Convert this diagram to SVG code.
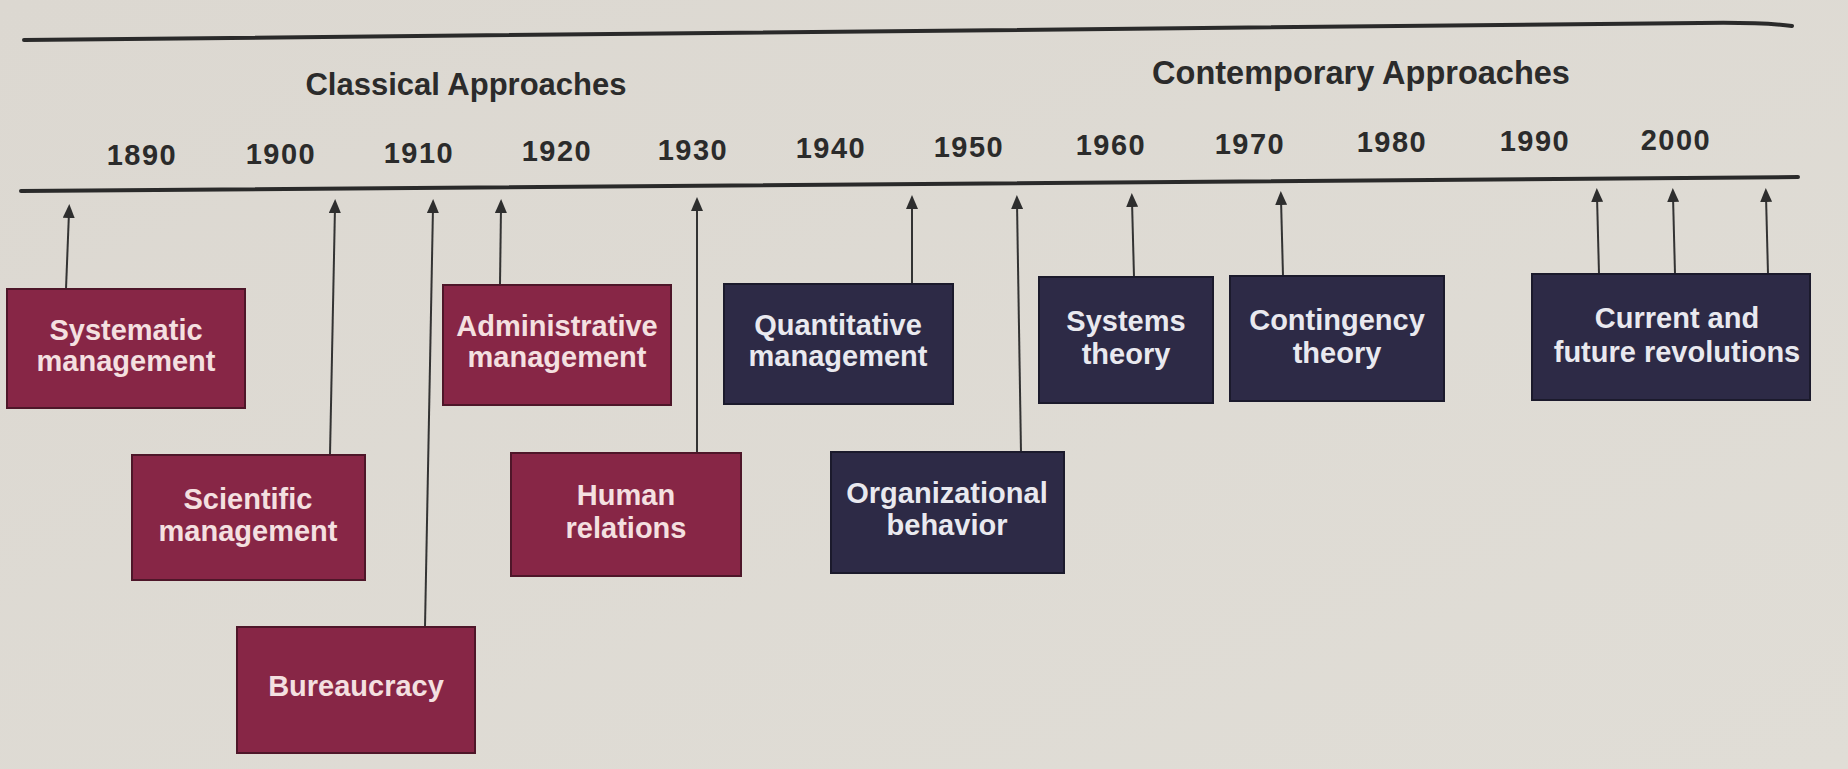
<svg xmlns="http://www.w3.org/2000/svg" width="1848" height="769" viewBox="0 0 1848 769">
  <defs>
    <linearGradient id="bg" x1="0" y1="0" x2="1" y2="1">
      <stop offset="0" stop-color="#dcd8d1"/>
      <stop offset="1" stop-color="#e0ddd6"/>
    </linearGradient>
    <marker id="ah" markerUnits="userSpaceOnUse" markerWidth="14" markerHeight="12" refX="6" refY="6" orient="auto">
      <path d="M0,0 L14,6 L0,12 z" fill="#2e2e2e"/>
    </marker>
    <style>
      .rule { fill: none; stroke: #2a2a2a; stroke-width: 4; stroke-linecap: round; }
      .conn { fill: none; stroke: #333333; stroke-width: 2; marker-end: url(#ah); }
      .head { font-family: "Liberation Sans", Arial, sans-serif; font-weight: bold; fill: #2b2b2b; text-anchor: middle; }
      .year { font-family: "Liberation Sans", Arial, sans-serif; font-weight: bold; font-size: 29px; fill: #2b2b2b; text-anchor: middle; letter-spacing: 1.5px; }
      .classical rect { fill: #872646; stroke: #4e1629; stroke-width: 2; }
      .contemporary rect { fill: #2d2a46; stroke: #1b1a2c; stroke-width: 2; }
      .classical text { fill: #f4e0e0; }
      .contemporary text { fill: #e9e9ef; }
      .node text { font-family: "Liberation Sans", Arial, sans-serif; font-weight: bold; font-size: 29px; text-anchor: middle; }
    </style>
  </defs>

  <rect x="0" y="0" width="1848" height="769" fill="url(#bg)"/>

  <g id="timeline">
    <path class="rule" d="M24,40 L1700,23 Q1762,22 1792,26"/>
    <path class="rule" d="M21,191 L1798,177"/>
    <text class="head" x="466" y="95" font-size="31">Classical Approaches</text>
    <text class="head" x="1361" y="84" font-size="32.5">Contemporary Approaches</text>
    <text class="year" x="142" y="165">1890</text>
    <text class="year" x="281" y="164">1900</text>
    <text class="year" x="419" y="163">1910</text>
    <text class="year" x="557" y="161">1920</text>
    <text class="year" x="693" y="160">1930</text>
    <text class="year" x="831" y="158">1940</text>
    <text class="year" x="969" y="157">1950</text>
    <text class="year" x="1111" y="155">1960</text>
    <text class="year" x="1250" y="154">1970</text>
    <text class="year" x="1392" y="152">1980</text>
    <text class="year" x="1535" y="151">1990</text>
    <text class="year" x="1676" y="150">2000</text>
  </g>

  <g id="connectors">
    <line class="conn" x1="66" y1="289" x2="69" y2="212"/>
    <line class="conn" x1="330" y1="455" x2="335" y2="207"/>
    <line class="conn" x1="425" y1="627" x2="433" y2="207"/>
    <line class="conn" x1="500" y1="285" x2="501" y2="207"/>
    <line class="conn" x1="697" y1="453" x2="697" y2="205"/>
    <line class="conn" x1="912" y1="284" x2="912" y2="203"/>
    <line class="conn" x1="1021" y1="452" x2="1017" y2="203"/>
    <line class="conn" x1="1134" y1="277" x2="1132" y2="201"/>
    <line class="conn" x1="1283" y1="276" x2="1281" y2="199"/>
    <line class="conn" x1="1599" y1="274" x2="1597" y2="196"/>
    <line class="conn" x1="1675" y1="274" x2="1673" y2="196"/>
    <line class="conn" x1="1768" y1="274" x2="1766" y2="196"/>
  </g>

  <g id="systematic" class="node classical">
    <rect x="7" y="289" width="238" height="119"/>
    <text x="126" y="340">Systematic</text>
    <text x="126" y="371">management</text>
  </g>
  <g id="scientific" class="node classical">
    <rect x="132" y="455" width="233" height="125"/>
    <text x="248" y="509">Scientific</text>
    <text x="248" y="541">management</text>
  </g>
  <g id="bureaucracy" class="node classical">
    <rect x="237" y="627" width="238" height="126"/>
    <text x="356" y="696">Bureaucracy</text>
  </g>
  <g id="administrative" class="node classical">
    <rect x="443" y="285" width="228" height="120"/>
    <text x="557" y="336">Administrative</text>
    <text x="557" y="367">management</text>
  </g>
  <g id="human" class="node classical">
    <rect x="511" y="453" width="230" height="123"/>
    <text x="626" y="505">Human</text>
    <text x="626" y="538">relations</text>
  </g>
  <g id="quantitative" class="node contemporary">
    <rect x="724" y="284" width="229" height="120"/>
    <text x="838" y="335">Quantitative</text>
    <text x="838" y="366">management</text>
  </g>
  <g id="organizational" class="node contemporary">
    <rect x="831" y="452" width="233" height="121"/>
    <text x="947" y="503">Organizational</text>
    <text x="947" y="535">behavior</text>
  </g>
  <g id="systems" class="node contemporary">
    <rect x="1039" y="277" width="174" height="126"/>
    <text x="1126" y="331">Systems</text>
    <text x="1126" y="364">theory</text>
  </g>
  <g id="contingency" class="node contemporary">
    <rect x="1230" y="276" width="214" height="125"/>
    <text x="1337" y="330">Contingency</text>
    <text x="1337" y="363">theory</text>
  </g>
  <g id="current" class="node contemporary">
    <rect x="1532" y="274" width="278" height="126"/>
    <text x="1677" y="328">Current and</text>
    <text x="1677" y="362">future revolutions</text>
  </g>
</svg>
